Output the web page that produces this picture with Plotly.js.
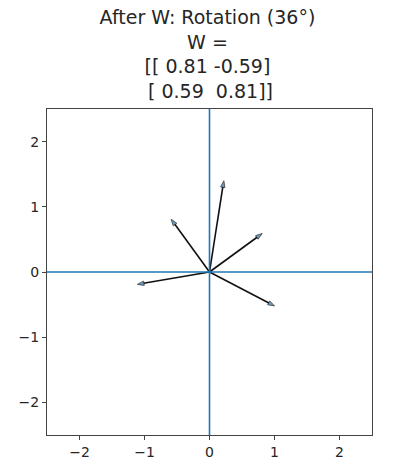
<!DOCTYPE html>
<html>
<head>
<meta charset="utf-8">
<script src="https://cdn.plot.ly/plotly-3.0.1.min.js"></script>
<style>html,body{margin:0;padding:0;background:#fff;}#chart{width:394px;height:468px;}</style>
</head>
<body>
<div id="chart"></div>
<script>
// Transformed vectors (tips)
const vecX = [0.22, -0.59, 0.81, 1.00, -1.11];
const vecY = [1.40, 0.81, 0.59, -0.52, -0.19];
// Matrix rows shown in title
const wRow1 = ["0.81", "-0.59"];
const wRow2 = ["0.59", "\u00a00.81"];
const tickVals = [-2, -1, 0, 1, 2];
const axisRange = [-2.5, 2.5];
const zeroPair = [0, 0];

const traces = vecX.map((x, i) => ({
  type: 'scatter',
  mode: 'lines+markers',
  x: [0, x],
  y: [0, vecY[i]],
  line: {color: '#111111', width: 1.6},
  marker: {
    symbol: 'arrow',
    angleref: 'previous',
    size: [0, 7],
    color: '#1f77b4',
    line: {color: '#111111', width: 1}
  },
  hoverinfo: 'skip',
  showlegend: false
}));

// axhline / axvline at 0 (drawn on top, as in the reference)
traces.push({type: 'scatter', mode: 'lines', x: axisRange, y: zeroPair,
  line: {color: '#1f77b4', width: 1.6}, hoverinfo: 'skip', showlegend: false});
traces.push({type: 'scatter', mode: 'lines', x: zeroPair, y: axisRange,
  line: {color: '#1f77b4', width: 1.6}, hoverinfo: 'skip', showlegend: false});

const titleText = 'After W: Rotation (36°)<br>W =<br>[[ ' + wRow1.join(' ') + ']<br>\u00a0[ ' + wRow2.join(' ') + ']]';

function axisCommon() {
  return {
    range: axisRange,
    tickvals: tickVals,
    ticks: 'outside',
    ticklen: 4,
    tickwidth: 1,
    tickcolor: '#444',
    showgrid: false,
    zeroline: false,
    showline: true,
    linecolor: '#444',
    linewidth: 1,
    mirror: true,
    tickfont: {family: 'DejaVu Sans', size: 14, color: '#262626'},
    fixedrange: true
  };
}

const layout = {
  width: 394,
  height: 468,
  margin: {l: 47, r: 22, t: 109, b: 33},
  paper_bgcolor: '#ffffff',
  plot_bgcolor: '#ffffff',
  title: {
    text: titleText,
    font: {family: 'DejaVu Sans', size: 19, color: '#262626'},
    x: 0.5266,
    xanchor: 'center',
    y: 0.949,
    yanchor: 'top',
    yref: 'container'
  },
  xaxis: axisCommon(),
  yaxis: axisCommon(),
  showlegend: false
};

Plotly.newPlot('chart', traces, layout, {staticPlot: true, displayModeBar: false});
</script>
</body>
</html>
